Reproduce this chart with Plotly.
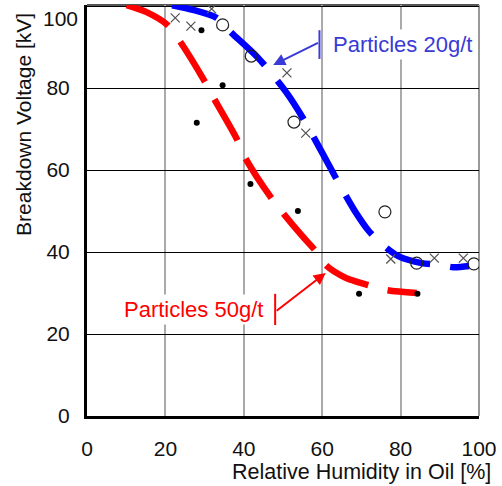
import plotly.graph_objects as go

# ---- data ----
blue_x = [21.7, 27.3, 33.1, 36.6, 43.7, 50.8, 55.0, 59.6, 64.0, 68.2, 72.0, 76.0, 79.8, 85.4, 89.5, 93.4, 97.5]
blue_y = [100.2, 99.0, 97.1, 93.7, 87.3, 79.0, 72.8, 64.9, 57.2, 50.2, 45.0, 41.3, 38.8, 37.3, 36.9, 36.3, 36.6]

red_x = [10.1, 15.2, 20.5, 23.5, 29.8, 32.3, 38.1, 40.4, 47.0, 50.0, 55.0, 58.1, 60.9, 66.0, 71.5, 76.5, 84.1]
red_y = [100.2, 98.5, 95.4, 91.7, 82.0, 77.6, 67.8, 62.9, 53.2, 49.5, 43.8, 40.5, 36.8, 33.7, 32.0, 30.7, 30.0]

dot_x = [29.2, 34.6, 28.0, 41.7, 53.8, 69.4, 84.3]
dot_y = [94.1, 80.7, 71.5, 56.6, 50.0, 29.8, 29.8]

cross_x = [22.5, 26.5, 31.8, 51.0, 55.8, 77.5, 88.6, 96.0]
cross_y = [97.1, 95.1, 99.3, 83.7, 69.0, 38.3, 38.5, 38.5]

circle_x = [34.6, 41.9, 52.8, 76.0, 84.1, 98.7]
circle_y = [95.4, 87.8, 71.7, 49.8, 37.3, 37.1]

x_ticks = [0, 20, 40, 60, 80, 100]
y_ticks = [0, 20, 40, 60, 80, 100]

FONT = "Liberation Sans, Arial, sans-serif"
BLUE_TXT = "#3a3ad6"

fig = go.Figure()
fig.add_trace(go.Scatter(x=blue_x, y=blue_y, mode="lines",
                         line=dict(color="#0000ff", width=6.5, dash="47px,20px", shape="spline", smoothing=0.8),
                         hoverinfo="skip"))
fig.add_trace(go.Scatter(x=red_x, y=red_y, mode="lines",
                         line=dict(color="#ff0000", width=6.5, dash="47px,20px", shape="spline", smoothing=0.8),
                         hoverinfo="skip"))
fig.add_trace(go.Scatter(x=cross_x, y=cross_y, mode="markers",
                         marker=dict(symbol="x-thin", size=9, line=dict(color="#555555", width=1.3))))
fig.add_trace(go.Scatter(x=circle_x, y=circle_y, mode="markers",
                         marker=dict(symbol="circle-open", size=12, color="#222222", line=dict(width=1.2))))
fig.add_trace(go.Scatter(x=dot_x, y=dot_y, mode="markers",
                         marker=dict(symbol="circle", size=6, color="#000000")))

shapes = [
    dict(type="line", xref="x", yref="paper", x0=x_ticks[1], x1=x_ticks[1], y0=0, y1=1,
         line=dict(color="#000000", width=1), layer="below"),
    dict(type="line", xref="paper", yref="paper", x0=0, x1=1, y0=1, y1=1,
         line=dict(color="#555555", width=2), layer="below"),
    dict(type="line", xref="paper", yref="paper", x0=1, x1=1, y0=0, y1=1,
         line=dict(color="#999999", width=2), layer="below"),
    dict(type="line", xref="x", yref="y", x0=59.3, x1=59.3, y0=87.1, y1=94.1,
         line=dict(color=BLUE_TXT, width=2)),
    dict(type="line", xref="x", yref="y", x0=48.0, x1=48.0, y0=22.2, y1=29.8,
         line=dict(color="#ff0000", width=2)),
]

annotations = [
    dict(x=62.1, y=90.5, xref="x", yref="y", xanchor="left", yanchor="middle",
         text="Particles 20g/t", showarrow=False, bgcolor="white", borderpad=2,
         font=dict(family=FONT, size=22, color=BLUE_TXT)),
    dict(x=45.7, y=25.9, xref="x", yref="y", xanchor="right", yanchor="middle",
         text="Particles 50g/t", showarrow=False, bgcolor="white", borderpad=2,
         font=dict(family=FONT, size=22, color="#ff0000")),
    dict(x=47.5, y=85.6, ax=59.3, ay=91.2, xref="x", yref="y", axref="x", ayref="y",
         text="", showarrow=True, arrowhead=2, arrowsize=1.2, arrowwidth=2, arrowcolor=BLUE_TXT),
    dict(x=60.9, y=34.9, ax=48.0, ay=25.4, xref="x", yref="y", axref="x", ayref="y",
         text="", showarrow=True, arrowhead=2, arrowsize=1.2, arrowwidth=2, arrowcolor="#ff0000"),
    dict(x=1.035, y=-0.136, xref="paper", yref="paper", xanchor="right", yanchor="middle",
         text="Relative Humidity in Oil [%]", showarrow=False,
         font=dict(family=FONT, size=21.5, color="#111111")),
    dict(x=-0.164, y=0.71, xref="paper", yref="paper", xanchor="center", yanchor="middle",
         text="Breakdown Voltage [kV]", textangle=-90, showarrow=False,
         font=dict(family=FONT, size=21, color="#111111")),
    # top y tick label, drawn slightly lower as in the reference (it would be clipped otherwise)
    dict(x=0, y=y_ticks[-1], xref="paper", yref="y", xanchor="right", yanchor="middle",
         xshift=-7, yshift=-12, text=str(y_ticks[-1]), showarrow=False,
         font=dict(family=FONT, size=21, color="#111111")),
]

fig.update_layout(
    width=502, height=486,
    margin=dict(l=87, r=19, t=5, b=70),
    paper_bgcolor="white", plot_bgcolor="white",
    showlegend=False,
    shapes=shapes, annotations=annotations,
    font=dict(family=FONT, size=20, color="#111111"),
    xaxis=dict(range=[0, 100], tickvals=x_ticks, ticktext=[str(v) for v in x_ticks],
               showgrid=True, gridcolor="#aaaaaa", gridwidth=2, zeroline=False,
               showline=True, linecolor="#000000", linewidth=3,
               ticks="", ticklabelstandoff=12, tickfont=dict(size=21),
               ticklabeloverflow="allow"),
    yaxis=dict(range=[0, 100.25], tickvals=y_ticks,
               ticktext=[str(v) if v != y_ticks[-1] else "" for v in y_ticks],
               showgrid=True, gridcolor="#000000", gridwidth=1, zeroline=False,
               showline=True, linecolor="#000000", linewidth=3,
               ticks="", ticklabelstandoff=10, tickfont=dict(size=21)),
)

fig.write_html("out.html", config={"displayModeBar": False},
               post_script="document.body.style.margin='0';document.body.style.overflow='hidden';")
